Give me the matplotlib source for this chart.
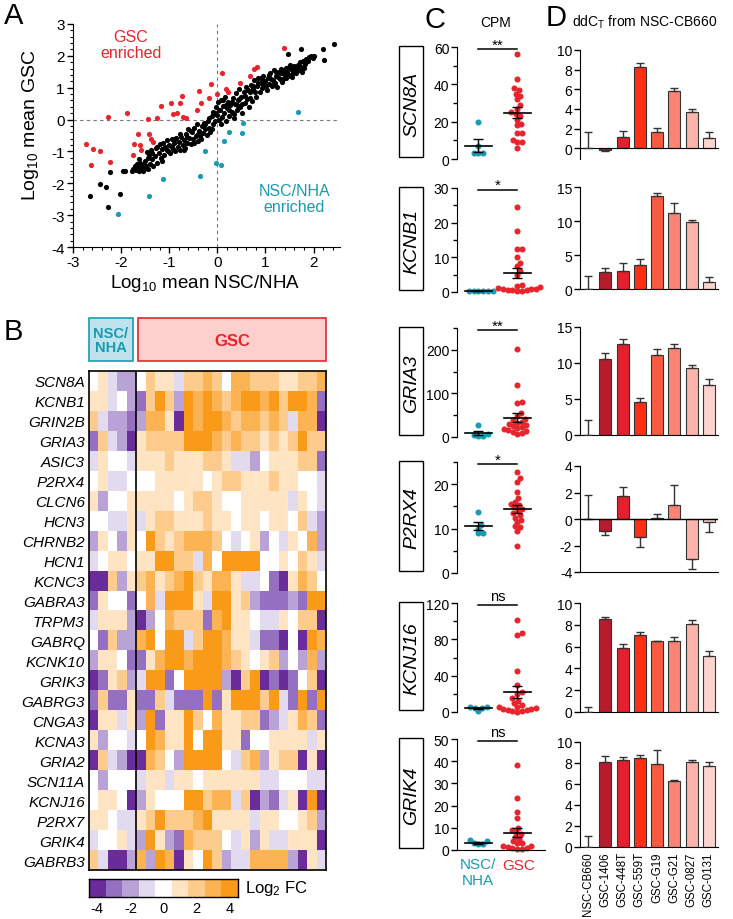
import matplotlib
matplotlib.use("Agg")
import matplotlib.pyplot as plt
import numpy as np
from matplotlib.colors import ListedColormap, BoundaryNorm
from matplotlib.patches import Rectangle
from matplotlib.ticker import MultipleLocator, AutoMinorLocator
import matplotlib.transforms as mtransforms

plt.rcParams["font.family"] = ["Liberation Sans", "DejaVu Sans"]
plt.rcParams["mathtext.default"] = "regular"
plt.rcParams["axes.unicode_minus"] = False

W, H = 733, 920
RED = "#e8242c"
TEAL = "#1a9ab3"

# ---------------- A: log10 mean expression
black_x = [-2.64, -2.43, -2.31, -2.28, -2.03, -2.24, -1.96, -1.91,
           -1.78, -1.75, -1.72, -1.70, -1.68, -1.65, -1.62, -1.60, -1.58, -1.55, -1.52, -1.50, -1.48, -1.45, -1.47,
           -1.42, -1.40, -1.38, -1.35, -1.33, -1.30, -1.28, -1.25, -1.22, -1.20, -1.18, -1.15, -1.12, -1.10, -1.08,
           -1.05, -1.03, -1.00, -0.98, -0.95, -0.93, -0.90, -0.87, -0.85, -0.82, -0.80, -0.78, -0.75, -0.72, -0.70,
           -0.68, -0.65, -0.62, -0.60, -0.58, -0.55, -0.52, -0.50, -0.48, -0.45, -0.42, -0.40, -0.38, -0.35, -0.32,
           -0.30, -0.28, -0.25, -0.22, -0.20, -0.18, -0.15, -0.12, -0.10, -0.08, -0.05, -0.03, 0.00, 0.02, 0.04,
           0.06, 0.08, 0.10, 0.12, 0.14, 0.16, 0.18, 0.20, 0.22, 0.25, 0.27, 0.30, 0.32, 0.34, 0.36, 0.38, 0.40,
           0.42, 0.45, 0.47, 0.50, 0.52, 0.55, 0.57, 0.60, 0.62, 0.65, 0.67, 0.70, 0.72, 0.75, 0.77, 0.80, 0.82,
           0.85, 0.88, 0.90, 0.93, 0.95, 0.98, 1.00, 1.03, 1.05, 1.08, 1.10, 1.13, 1.15, 1.18, 1.20, 1.23, 1.25,
           1.28, 1.30, 1.33, 1.35, 1.38, 1.40, 1.43, 1.45, 1.48, 1.50, 1.53, 1.55, 1.58, 1.60, 1.63, 1.65, 1.68,
           1.70, 1.73, 1.75, 1.78, 1.82, 1.85, 1.90, 1.95, 2.00, 1.47, 1.74, 2.19, 2.22, 2.43,
           -1.62, -1.55, -1.45, -1.35, -1.25, -1.15, -1.05, -0.95, -0.88, -0.78, -0.70, -0.62, -0.55, -0.48,
           -0.40, -0.33, -0.25, -0.18, -0.12, -0.05, 0.03, 0.08, 0.12, 0.18, 0.24, 0.30, 0.35, 0.41, 0.46,
           0.52, 0.58, 0.63, 0.68, 0.74, 0.79, 0.84, 0.91, 0.97, 1.02, 1.07, 1.12, 1.17, 1.22, 1.27, 1.32,
           1.37, 1.42, 1.47, 1.52, 1.57, 1.62, 1.67, 1.72, 1.80, 1.88, 1.98]
black_y = [-2.39, -2.02, -2.13, -2.76, -2.33, -1.66, -1.63, -1.63,
           -1.62, -1.55, -1.45, -1.58, -1.40, -1.52, -1.60, -1.35, -1.48, -1.42, -1.55, -1.30, -1.45, -1.20, -1.02,
           -1.10, -1.38, -0.95, -1.25, -1.45, -1.15, -0.90, -1.35, -1.05, -0.78, -1.20, -0.92, -0.72, -1.10, -0.85,
           -0.65, -1.00, -0.80, -1.05, -0.62, -0.92, -0.75, -1.00, -0.58, -0.85, -0.70, -0.95, -0.55, -0.80, -0.65,
           -0.88, -0.45, -0.72, -0.30, -0.58, -0.78, -0.40, -0.62, -0.25, -0.50, -0.15, -0.68, -0.35, -0.52, -0.20,
           -0.42, -0.10, -0.30, -0.48, -0.05, -0.25, -0.38, 0.10, -0.15, 0.25, -0.05, 0.40, 0.15, 0.55, -0.02,
           0.30, 0.62, 0.08, 0.42, 0.20, 0.70, -0.05, 0.35, 0.55, 0.12, 0.45, 0.25, 0.68, 0.05, 0.50, 0.82, 0.30,
           0.60, 0.95, 0.40, 0.72, 0.20, 0.88, 0.52, 1.02, 0.65, 0.38, 0.85, 1.10, 0.58, 0.95, 1.25, 0.72, 1.05,
           1.30, 0.88, 1.15, 0.98, 1.38, 1.08, 1.22, 0.92, 1.32, 1.12, 1.45, 1.05, 1.25, 1.55, 1.15, 1.38, 1.02,
           1.48, 1.28, 1.60, 1.18, 1.42, 1.55, 1.30, 1.48, 1.65, 1.40, 1.58, 1.35, 1.50, 1.68, 1.45, 1.60, 1.72,
           1.55, 1.65, 1.50, 1.85, 1.75, 1.90, 1.95, 2.00, 1.98, 2.07, 2.20, 2.22, 1.86, 2.36,
           -1.25, -1.62, -1.55, -1.05, -0.85, -1.30, -0.95, -0.85, -0.60, -0.45, -0.95, -0.55, -0.35, -0.72,
           -0.45, -0.62, -0.15, 0.05, -0.30, 0.20, 0.30, -0.15, 0.60, 0.45, 0.30, 0.55, 0.18, 0.45, 0.65,
           0.50, 0.75, 0.92, 0.68, 1.05, 0.88, 1.15, 1.30, 1.20, 1.05, 1.40, 1.28, 1.12, 1.50, 1.35, 1.45,
           1.28, 1.62, 1.38, 1.70, 1.45, 1.55, 1.62, 1.80, 1.62, 1.85, 1.92]
gsc_up_x = [-2.72, -2.58, -2.43, -2.62, -2.24, -2.28, -1.88, -1.65, -1.74, -1.76, -1.60, -1.58, -1.44, -1.42,
            -1.37, -1.33, -1.25, -1.18, -0.96, -0.92, -0.83, -0.73, -0.78, -0.71, -0.65, -0.42, -0.38, -0.33,
            -0.13, -0.17, -0.01, 0.10, 0.19, 0.23, 0.47, 0.68, 0.76, 0.83, 1.39]
gsc_up_y = [-0.76, -0.92, -0.98, -1.43, -1.33, 0.07, 0.22, -0.44, -0.78, -1.10, -0.80, -0.96, 0.03, -0.44,
            -0.60, -0.70, 0.06, 0.43, 0.53, 0.16, 0.22, 0.74, 0.53, 0.07, 0.06, 0.29, 0.89, 0.53,
            1.13, 0.68, 0.79, 1.46, 0.95, 0.88, 1.14, 1.37, 1.60, 1.66, 2.25]
nsc_up_x = [1.67, 0.54, 0.51, 0.25, 0.14, -0.25, -0.03, 0.07, -0.36, -1.13, -1.42, -2.07]
nsc_up_y = [0.24, -0.11, -0.41, -0.40, -0.68, -1.00, -1.37, -1.44, -1.76, -1.85, -2.39, -2.95]

# ---------------- B: heatmap (log2 FC), 5 NSC/NHA + 20 GSC columns
genes = ["SCN8A", "KCNB1", "GRIN2B", "GRIA3", "ASIC3", "P2RX4", "CLCN6", "HCN3", "CHRNB2", "HCN1",
         "KCNC3", "GABRA3", "TRPM3", "GABRQ", "KCNK10", "GRIK3", "GABRG3", "CNGA3", "KCNA3", "GRIA2",
         "SCN11A", "KCNJ16", "P2RX7", "GRIK4", "GABRB3"]
n_nsc = 5
fc_rows = [
    [0, 1, -1, -2, -2, 0, 2, 1, 1, -1, 2, 2, 3, 2, 0, 3, 3, 2, 2, 2, 1, 1, 2, 2, 3],
    [1, 1, -1, 0, -2, -3, 2, 4, 2, -2, 4, 3, 4, 3, 2, 3, 4, 4, 3, 4, 2, 4, 4, 3, -3],
    [2, -1, -2, -2, -3, -2, 3, 3, 1, -4, 4, 3, 4, 4, 3, 2, 3, 3, 2, 3, 2, -1, 3, 3, -4],
    [-3, 2, -1, -2, -4, 1, 2, 2, 2, 2, 4, 4, 4, 3, 2, 3, 2, 2, 1, 2, 1, 2, 4, 2, 2],
    [-1, 1, 0, 0, -1, 1, 1, 1, 2, 1, 1, 1, 2, 2, 1, -1, -1, -2, 0, 1, 1, 1, 2, 2, -3],
    [0, 1, -1, -1, 0, 0, 0, 1, 1, 1, 1, 1, 0, 1, 2, 2, 1, 1, 1, 2, 1, 1, 0, 0, -1],
    [1, -2, 0, 0, 1, 1, 1, 1, 1, 0, 1, 2, 2, 1, 0, 0, 1, 1, 1, 1, 1, -1, 1, 0, -1],
    [0, 0, -1, -1, 1, -1, 1, 2, 2, 1, 1, 1, 2, 1, 1, 0, 1, 1, 0, 1, 1, 0, 2, -1, -2],
    [-2, 1, 0, -2, 1, 0, 4, 2, 1, 2, 3, 3, 3, 2, 0, -1, 0, 1, -2, 0, -1, 1, 0, 3, -2],
    [-1, 0, 1, 1, 0, 1, 1, 4, 4, 2, 2, -1, 3, 0, 4, 4, 4, 4, 0, 0, 1, 0, 2, 1, -1],
    [-4, -4, 2, -2, 1, 2, 3, 1, 2, 3, 4, 2, 1, 3, 3, 1, -1, -1, 0, -3, -4, 1, 3, 2, 0],
    [-3, 1, 0, 0, -3, 0, 3, -1, 4, 4, 4, 1, -1, 4, 4, 1, 2, -2, -3, -3, -3, -2, -3, 4, 4],
    [-1, 1, 1, 1, -2, -4, -2, 0, 3, 2, 2, 2, -3, 3, 4, 1, 1, 0, -1, -1, 1, 0, 2, 2, -4],
    [0, -3, 2, -2, -2, 3, 4, 0, 4, 4, -1, 2, 4, 4, 3, 1, 1, -1, -3, -3, -4, 0, -4, 4, 3],
    [-2, 1, 1, 0, -3, -3, 1, 3, 4, 4, 3, 4, 4, 4, 3, 2, 1, 0, 1, 2, -2, 0, -2, 3, -2],
    [-4, -3, 1, 2, -2, -1, 4, 4, -3, 0, 4, 4, 4, 4, -2, -4, 2, 4, -4, -3, -4, -3, 0, 2, -4],
    [-3, 2, -3, -3, 1, -3, -3, 2, -1, -3, -3, -3, 4, -3, 1, 4, 4, 4, 2, 4, -1, -3, 4, -3, 4],
    [-4, 1, 1, -1, 1, -2, 4, -3, 1, 1, 4, 2, 0, 3, 1, 1, 2, 2, -3, -2, -1, 1, 3, 2, -3],
    [1, -2, 0, 0, -1, 0, 4, 3, 1, 1, 4, 0, 4, 4, 1, 1, -3, 0, 0, 1, 1, 1, 1, -1, 1],
    [-4, 2, -1, -2, -4, -4, 3, 2, 0, -2, 4, 4, 4, 4, 0, -1, 2, 3, -2, 1, 2, 2, -4, 1, -4],
    [0, -2, 0, 0, 0, -1, 1, 1, -1, 1, 1, 0, 1, 1, 1, 1, 1, 1, -1, -1, 0, 0, 0, -1, -1],
    [0, 1, 1, 0, -4, -2, 1, 0, 0, 0, 4, 4, 2, 3, 3, -1, 2, -4, -2, -3, -1, 1, -4, 4, -4],
    [1, 1, 0, -1, -1, 1, 2, 4, 2, 2, 2, 3, 4, 1, 1, 1, 1, -1, 1, 1, 0, 0, 1, 2, -2],
    [-1, 0, 0, 1, -1, -2, 4, 1, -2, -3, 3, 2, 2, 2, 0, -1, 1, -2, 1, -1, -1, 1, 1, 1, -4],
    [2, -1, -4, -4, -2, 3, -2, 4, 3, -4, 1, 0, 4, 2, -2, -1, -1, 3, 3, 3, 3, -2, -4, 1, -1],
]
fc_levels = [-4, -3, -2, -1, 0, 1, 2, 3, 4]
fc_colors = ["#6a2b9b", "#9570c1", "#b9a2d6", "#e2daee", "#ffffff",
             "#fee4c2", "#fdcc8c", "#fcb353", "#f99a18"]

# ---------------- C: CPM per group
cpm_genes = ["SCN8A", "KCNB1", "GRIA3", "P2RX4", "KCNJ16", "GRIK4"]
cpm_nsc = [
    [20, 7, 3, 3, 3],
    [0.3, 0.3, 0.3, 0.3, 0.3, 0.3],
    [27, 7, 4, 3, 2],
    [13.8, 10.9, 10, 8.9, 8.9],
    [5.5, 5, 4.5, 4, 1],
    [4.3, 4, 3, 2.5, 2.5],
]
cpm_gsc = [
    [56, 43, 38, 37, 35, 34, 32, 29, 27, 25, 24, 23, 21, 19, 18, 14, 14, 10, 9, 9, 6],
    [24.5, 17.5, 12.5, 12.3, 10, 8.5, 7.5, 6, 5, 2, 1.8, 1.5, 1.2, 1, 1, 0.8, 0.6, 0.5, 0.5, 0.4, 0.3],
    [202, 120, 80, 78, 55, 48, 42, 38, 35, 32, 30, 28, 25, 22, 20, 18, 16, 14, 12, 10, 8],
    [22.8, 21.3, 20.5, 18.3, 16.8, 16, 15.5, 15.3, 14.8, 14.5, 14, 13.5, 13, 12.5, 12, 11.5, 10.5, 10.4, 9.5, 6],
    [101, 87, 85, 45, 30, 22, 20, 15, 12, 10, 8, 6, 5, 4, 3, 3, 2, 2, 1, 1, 0.5],
    [38.5, 23.5, 17, 14.5, 10, 9, 8, 7, 6, 5, 4, 3, 3, 2, 2, 1.5, 1, 1, 0.5, 0.5],
]
cpm_sig = ["**", "*", "**", "*", "ns", "ns"]
cpm_ylim = [60, 30, 250, 25, 120, 50]
cpm_major = [20, 10, 100, 10, 40, 10]
cpm_minor = [10, 5, 50, 5, 20, None]

# ---------------- D: ddCt from NSC-CB660
lines = ["NSC-CB660", "GSC-1406", "GSC-448T", "GSC-559T", "GSC-G19", "GSC-G21", "GSC-0827", "GSC-0131"]
line_colors = ["#ffffff", "#b71c2e", "#e41f2e", "#ff2f14", "#fa5a3f", "#fb8474", "#fcb3ab", "#fdd3cf"]
ddct = [
    [0, -0.15, 1.1, 8.3, 1.7, 5.85, 3.7, 1.0],
    [0, 2.5, 2.7, 3.6, 13.7, 11.2, 9.9, 1.0],
    [0, 10.5, 12.7, 4.6, 11.1, 12.1, 9.3, 7.0],
    [0, -0.9, 1.7, -1.35, 0.1, 1.05, -3.05, -0.25],
    [0, 8.5, 5.85, 7.1, 6.5, 6.55, 8.1, 5.15],
    [0, 8.1, 8.3, 8.5, 7.95, 6.25, 8.05, 7.7],
]
ddct_err = [
    [1.6, 0.12, 0.7, 0.4, 0.35, 0.3, 0.3, 0.65],
    [1.9, 0.6, 1.1, 0.8, 0.4, 1.4, 0.3, 0.7],
    [2.1, 0.9, 0.6, 0.6, 0.8, 0.6, 0.4, 0.8],
    [1.8, 0.3, 0.7, 0.75, 0.3, 1.5, 0.75, 0.75],
    [0.45, 0.2, 0.35, 0.25, 0.05, 0.3, 0.3, 0.45],
    [1.05, 0.6, 0.3, 0.3, 1.3, 0.15, 0.25, 0.35],
]
ddct_ylim = [(-1.1, 10), (0, 15), (0, 15), (-4, 4), (0, 10), (0, 10)]
ddct_major = [2, 5, 5, 2, 2, 2]

# pixel layout of the six rows in C and D (top, bottom)
c_rows = [(48, 160), (189, 293), (329, 438), (463, 574), (604, 713), (740, 851)]
d_rows = [(51, 160), (188, 290), (328, 436), (467, 573), (604, 713), (743, 848)]


def rect(l, t, r, b):
    return [l / W, 1 - b / H, (r - l) / W, (b - t) / H]


fig = plt.figure(figsize=(W / 100, H / 100), dpi=100)


def ftext(x, y, s, **kw):
    fig.text(x / W, 1 - y / H, s, **kw)


def fbox(l, t, r, b, **kw):
    fig.add_artist(Rectangle((l / W, 1 - b / H), (r - l) / W, (b - t) / H,
                             transform=fig.transFigure, **kw))


def swarm(vals, ppu, d):
    """x offsets (pixels) so that dots of diameter d do not overlap"""
    ys = np.asarray(vals, dtype=float) * ppu
    xs = np.zeros(len(ys))
    done = []
    for i in np.argsort(ys, kind="stable"):
        cands = [0.0]
        for j in done:
            dy = ys[i] - ys[j]
            if abs(dy) < d:
                dx = np.sqrt(d * d - dy * dy)
                cands += [xs[j] + dx, xs[j] - dx]
        cands.sort(key=abs)
        for c in cands:
            if all((c - xs[j]) ** 2 + (ys[i] - ys[j]) ** 2 >= d * d - 1e-6 for j in done):
                xs[i] = c
                break
        done.append(i)
    return xs


# ================= panel A
axA = fig.add_axes(rect(73, 25, 340, 248))
axA.scatter(black_x, black_y, s=14, color="black", linewidths=0, zorder=3)
axA.scatter(gsc_up_x, gsc_up_y, s=14, color=RED, linewidths=0, zorder=3)
axA.scatter(nsc_up_x, nsc_up_y, s=14, color=TEAL, linewidths=0, zorder=3)
axA.axhline(0, color="#777777", lw=0.8, ls=(0, (3, 3)), zorder=1)
axA.axvline(0, color="#777777", lw=0.8, ls=(0, (3, 3)), zorder=1)
axA.set_xlim(-3, 2.55)
axA.set_ylim(-4, 3)
axA.xaxis.set_major_locator(MultipleLocator(1))
axA.yaxis.set_major_locator(MultipleLocator(1))
axA.xaxis.set_minor_locator(AutoMinorLocator(5))
axA.yaxis.set_minor_locator(AutoMinorLocator(5))
for s in ["top", "right"]:
    axA.spines[s].set_visible(False)
axA.tick_params(which="major", length=4, width=1, labelsize=11, direction="out", pad=2)
axA.tick_params(which="minor", length=2, width=0.8, direction="out")
axA.text(-1.8, 2.35, "GSC\nenriched", color=RED, ha="center", va="center", fontsize=11.5, linespacing=1.1)
axA.text(1.6, -2.48, "NSC/NHA\nenriched", color=TEAL, ha="center", va="center", fontsize=11.5, linespacing=1.1)
ftext(14, 16, "A", fontsize=21, ha="center", va="center")
ftext(31, 125, "Log$_{10}$ mean GSC", rotation=90, fontsize=14, ha="center", va="center")
ftext(205, 284, "Log$_{10}$ mean NSC/NHA", fontsize=13.5, ha="center", va="center")

# ================= panel B
cmap = ListedColormap(fc_colors)
norm = BoundaryNorm(np.arange(-4.5, 5.0, 1.0), cmap.N)
axB = fig.add_axes(rect(89, 372, 326, 871))
axB.imshow(np.array(fc_rows), cmap=cmap, norm=norm, aspect="auto", interpolation="nearest")
axB.axvline(n_nsc - 0.5, color="black", lw=1.2)
axB.set_xticks([])
axB.set_yticks(range(len(genes)))
axB.set_yticklabels(genes, fontsize=11, style="italic")
axB.tick_params(length=0, pad=3)
for sp in axB.spines.values():
    sp.set_linewidth(1.2)

fbox(89, 319, 133, 362, facecolor="#bfe3ec", edgecolor=TEAL, lw=1.2)
fbox(138, 319, 326, 362, facecolor="#fdd0cd", edgecolor=RED, lw=1.2)
ftext(111, 341, "NSC/\nNHA", color=TEAL, fontsize=10.5, fontweight="bold", ha="center", va="center", linespacing=1.0)
ftext(232, 342, "GSC", color=RED, fontsize=12, fontweight="bold", ha="center", va="center")
ftext(13, 332, "B", fontsize=21, ha="center", va="center")

axCb = fig.add_axes(rect(89, 880, 238, 898))
axCb.imshow(np.array(fc_levels)[None, :], cmap=cmap, norm=norm, aspect="auto")
axCb.set_yticks([])
axCb.set_xticks([0, 2, 4, 6, 8])
axCb.set_xticklabels([str(v) for v in fc_levels[::2]], fontsize=10.5)
axCb.tick_params(length=0, pad=3)
for sp in axCb.spines.values():
    sp.set_linewidth(1)
ftext(245, 889, "Log$_2$ FC", fontsize=12, ha="left", va="center")

# ================= panel C
ftext(435, 20, "C", fontsize=21, ha="center", va="center")
ftext(496, 23, "CPM", fontsize=10, ha="center", va="center")
xunit_px = 39.0
dot_px = 6.0
for i, g in enumerate(cpm_genes):
    top, bot = c_rows[i]
    ax = fig.add_axes(rect(457, top, 545, bot))
    ymax = cpm_ylim[i]
    ppu = (bot - top) / ymax
    for xpos, vals, col in [(0, cpm_nsc[i], TEAL), (1, cpm_gsc[i], RED)]:
        offs = swarm(vals, ppu, dot_px * 0.8) / xunit_px
        ax.scatter(xpos + offs, vals, s=19, color=col, linewidths=0, clip_on=False, zorder=2)
        m = np.mean(vals)
        sem = np.std(vals, ddof=1) / np.sqrt(len(vals))
        ax.plot([xpos - 0.35, xpos + 0.35], [m, m], color="black", lw=1.2, zorder=3)
        ax.errorbar(xpos, m, yerr=sem, color="black", lw=1, capsize=3.5, capthick=1, zorder=3)
    trans = mtransforms.blended_transform_factory(ax.transData, ax.transAxes)
    ax.plot([0, 1], [0.985, 0.985], color="black", lw=1.1, transform=trans, clip_on=False)
    ax.text(0.5, 1.0 if cpm_sig[i] == "ns" else 0.96, cpm_sig[i], transform=trans, ha="center", va="bottom",
            fontsize=10.5 if cpm_sig[i] == "ns" else 11)
    ax.set_xlim(-0.55, 1.72)
    ax.set_ylim(0, ymax)
    ax.yaxis.set_major_locator(MultipleLocator(cpm_major[i]))
    if cpm_minor[i]:
        ax.yaxis.set_minor_locator(MultipleLocator(cpm_minor[i]))
    ax.set_xticks([])
    ax.spines["top"].set_visible(False)
    ax.spines["right"].set_visible(False)
    if i < len(cpm_genes) - 1:
        ax.spines["bottom"].set_visible(False)
    ax.tick_params(which="major", length=4, width=1, labelsize=10, pad=1.5)
    ax.tick_params(which="minor", length=3, width=1)
    fbox(399, top - 1, 423, bot - 2, facecolor="none", edgecolor="black", lw=1)
    ftext(411.5, (top + bot) / 2, g, rotation=90, fontsize=14, style="italic", ha="center", va="center")

ftext(478, 873, "NSC/\nNHA", color=TEAL, fontsize=11, ha="center", va="center", linespacing=1.2)
ftext(519, 866, "GSC", color=RED, fontsize=11, ha="center", va="center")

# ================= panel D
ftext(556, 18, "D", fontsize=21, ha="center", va="center")
ftext(572, 22, "ddC$_T$ from NSC-CB660", fontsize=10, ha="left", va="center")
xs = np.arange(len(lines))
for i in range(len(ddct)):
    top, bot = d_rows[i]
    ax = fig.add_axes(rect(580, top, 718, bot))
    vals = np.array(ddct[i])
    err = np.array(ddct_err[i])
    ax.bar(xs, vals, width=0.7, color=line_colors, edgecolor="#333333", linewidth=0.8, zorder=2)
    lower = np.where(vals < 0, err, 0)
    upper = np.where(vals >= 0, err, 0)
    ax.errorbar(xs, vals, yerr=[lower, upper], fmt="none", ecolor="#333333", elinewidth=1,
                capsize=3, capthick=1, zorder=3)
    ax.set_xlim(-0.47, 7.53)
    ax.set_ylim(*ddct_ylim[i])
    ax.yaxis.set_major_locator(MultipleLocator(ddct_major[i]))
    ax.spines["top"].set_visible(False)
    ax.spines["right"].set_visible(False)
    if ddct_ylim[i][0] < 0 and ddct_ylim[i][0] > -2:
        ax.spines["bottom"].set_position(("data", 0))
    elif ddct_ylim[i][0] < 0:
        ax.axhline(0, color="black", lw=1, zorder=4)
    ax.tick_params(axis="y", length=4, width=1, labelsize=10, pad=1.5)
    ax.tick_params(axis="x", length=0, pad=3)
    if i == len(ddct) - 1:
        ax.set_xticks(xs)
        ax.set_xticklabels(lines, rotation=90, fontsize=8.3)
    else:
        ax.set_xticks([])

fig.savefig("out.png", dpi=100)
